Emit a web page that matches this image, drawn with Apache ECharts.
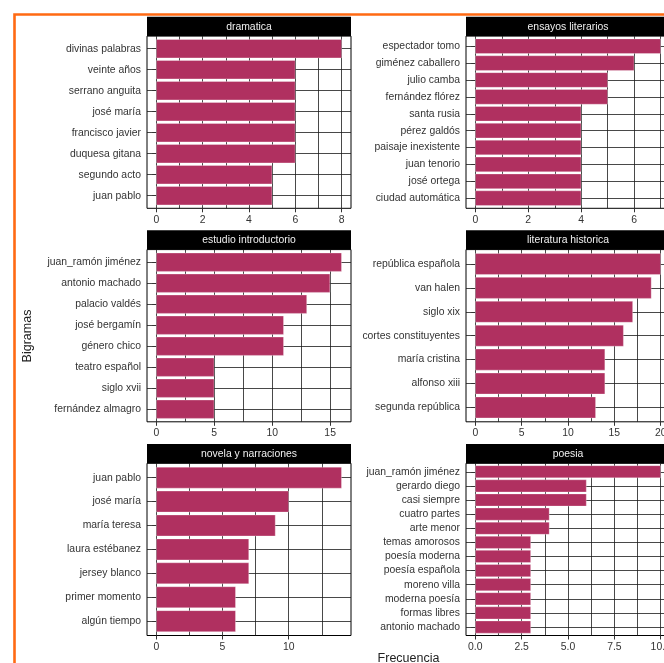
<!DOCTYPE html>
<html><head><meta charset="utf-8">
<script src="https://cdn.jsdelivr.net/npm/echarts@6/dist/echarts.min.js"></script>
<style>html,body{margin:0;padding:0;background:#fff;overflow:hidden}#c{width:700px;height:663px}</style>
</head><body><div id="c"></div>
<script>
// ---- data ----
const dramaticaCats = ['divinas palabras','veinte años','serrano anguita','josé maría','francisco javier','duquesa gitana','segundo acto','juan pablo'];
const dramaticaVals = [8,6,6,6,6,6,5,5];
const dramaticaTicks = [0,2,4,6,8];

const ensayosCats = ['espectador tomo','giménez caballero','julio camba','fernández flórez','santa rusia','pérez galdós','paisaje inexistente','juan tenorio','josé ortega','ciudad automática'];
const ensayosVals = [7,6,5,5,4,4,4,4,4,4];
const ensayosTicks = [0,2,4,6];

const estudioCats = ['juan_ramón jiménez','antonio machado','palacio valdés','josé bergamín','género chico','teatro español','siglo xvii','fernández almagro'];
const estudioVals = [16,15,13,11,11,5,5,5];
const estudioTicks = [0,5,10,15];

const historicaCats = ['república española','van halen','siglo xix','cortes constituyentes','maría cristina','alfonso xiii','segunda república'];
const historicaVals = [20,19,17,16,14,14,13];
const historicaTicks = [0,5,10,15,20];

const novelaCats = ['juan pablo','josé maría','maría teresa','laura estébanez','jersey blanco','primer momento','algún tiempo'];
const novelaVals = [14,10,9,7,7,6,6];
const novelaTicks = [0,5,10];

const poesiaCats = ['juan_ramón jiménez','gerardo diego','casi siempre','cuatro partes','arte menor','temas amorosos','poesía moderna','poesía española','moreno villa','moderna poesía','formas libres','antonio machado'];
const poesiaVals = [10,6,6,4,4,3,3,3,3,3,3,3];
const poesiaTicks = [0,2.5,5,7.5,10];

const panelTitles = ['dramatica','ensayos literarios','estudio introductorio','literatura historica','novela y narraciones','poesia'];
const xTitle = 'Frecuencia';
const yTitle = 'Bigramas';

// ---- layout ----
const panels = [
  {cats:dramaticaCats, vals:dramaticaVals, ticks:dramaticaTicks, col:0, row:0, dec:0},
  {cats:ensayosCats, vals:ensayosVals, ticks:ensayosTicks, col:1, row:0, dec:0},
  {cats:estudioCats, vals:estudioVals, ticks:estudioTicks, col:0, row:1, dec:0},
  {cats:historicaCats, vals:historicaVals, ticks:historicaTicks, col:1, row:1, dec:0},
  {cats:novelaCats, vals:novelaVals, ticks:novelaTicks, col:0, row:2, dec:0},
  {cats:poesiaCats, vals:poesiaVals, ticks:poesiaTicks, col:1, row:2, dec:1}
];
const FONT = "'Liberation Sans', Arial, sans-serif";
const colLeft = [147, 466], panelW = 204;
const stripTop = [16.8, 230.3, 444], stripH = 19.3, plotH = 172.2;
const BAR = '#B03060';
const TXT = '#333333';
const GRIDC = '#1a1a1a';

const grid = [], xAxis = [], yAxis = [], series = [], graphic = [];

panels.forEach((p, i) => {
  const left = colLeft[p.col];
  const sTop = stripTop[p.row];
  const pTop = sTop + stripH;
  const n = p.cats.length;
  const u = plotH / (n + 0.2);
  const vmax = Math.max.apply(null, p.vals);
  const xmin = -0.05 * vmax, xmax = 1.05 * vmax;
  const half = (p.ticks[1] - p.ticks[0]) / 2;
  const gridVals = [];
  for (let k = Math.ceil(xmin / half); k * half <= xmax + 1e-9; k++) gridVals.push(+(k * half).toFixed(6));
  const catPos = p.cats.map((c, j) => j + 1);

  grid.push({left: left, top: pTop, width: panelW, height: plotH, show: true,
    borderColor: '#000', borderWidth: 1, backgroundColor: 'transparent'});
  grid.push({left: left, top: pTop + 0.1 * u, width: panelW, height: n * u});
  const gb = 2 * i, gf = 2 * i + 1;

  xAxis.push({gridIndex: gb, type: 'value', min: xmin, max: xmax, position: 'bottom',
    axisLine: {show: false},
    axisTick: {show: true, length: 4, customValues: p.ticks, lineStyle: {color: TXT, width: 1}},
    axisLabel: {customValues: p.ticks, margin: 6.5, color: TXT, fontSize: 10.4, fontFamily: FONT,
      formatter: v => p.dec ? Number(v).toFixed(p.dec) : String(v)},
    splitLine: {show: false}});
  xAxis.push({gridIndex: gb, type: 'value', min: xmin, max: xmax, position: 'bottom',
    axisLine: {show: false}, axisLabel: {show: false},
    axisTick: {show: false, customValues: gridVals},
    splitLine: {show: true, lineStyle: {color: GRIDC, width: 0.8}}});
  xAxis.push({gridIndex: gf, type: 'value', min: xmin, max: xmax, show: false});

  // value axis carrying the horizontal grid lines at category centres (ggplot discrete expansion 0.6)
  yAxis.push({gridIndex: gb, type: 'value', min: 0.4, max: n + 0.6, inverse: true,
    axisLine: {show: false}, axisLabel: {show: false},
    axisTick: {show: false, customValues: catPos},
    splitLine: {show: true, lineStyle: {color: GRIDC, width: 0.8}}});
  yAxis.push({gridIndex: gf, type: 'category', data: p.cats, inverse: true,
    axisLine: {show: false},
    axisTick: {show: true, alignWithLabel: true, interval: 0, length: 4, lineStyle: {color: TXT, width: 1}},
    axisLabel: {interval: 0, margin: 6, color: TXT, fontSize: 10.4, fontFamily: FONT},
    splitLine: {show: false}});

  series.push({type: 'bar', xAxisIndex: 3 * i + 2, yAxisIndex: 2 * i + 1, data: p.vals,
    barCategoryGap: '10%', silent: true,
    itemStyle: {color: BAR, borderColor: 'rgba(255,255,255,0.6)', borderWidth: 0.5}});

  graphic.push({type: 'rect', shape: {x: left, y: sTop, width: panelW, height: stripH},
    style: {fill: '#000'}, z: 10});
  graphic.push({type: 'text', x: left + panelW / 2, y: sTop + stripH / 2 + 0.5, z: 11,
    style: {text: panelTitles[i], fill: '#F0F0F0', font: '10.4px ' + FONT,
      textAlign: 'center', textVerticalAlign: 'middle'}});
});

graphic.push({type: 'rect', shape: {x: 14.5, y: 14.5, width: 1000, height: 1000},
  style: {fill: 'none', stroke: '#FF6A13', lineWidth: 2.6}, z: 20});
graphic.push({type: 'text', x: 28, y: 336, rotation: Math.PI / 2, z: 11,
  style: {text: yTitle, fill: '#222', font: '12.5px ' + FONT, textAlign: 'center', textVerticalAlign: 'middle'}});
graphic.push({type: 'text', x: 408.5, y: 652, z: 11,
  style: {text: xTitle, fill: '#222', font: '12.5px ' + FONT, textAlign: 'center', textVerticalAlign: 'top'}});

const chart = echarts.init(document.getElementById('c'), null, {renderer: 'canvas'});
chart.setOption({animation: false, backgroundColor: '#fff', grid, xAxis, yAxis, series, graphic});
</script></body></html>
